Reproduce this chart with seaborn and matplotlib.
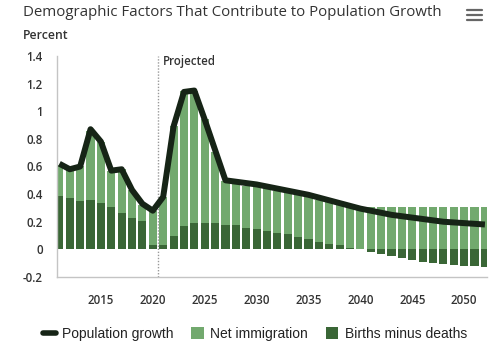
import numpy as np
import pandas as pd
import seaborn as sns
import matplotlib.pyplot as plt
from matplotlib.lines import Line2D
from matplotlib.patches import Patch

years = list(range(2011, 2053))

births_minus_deaths = [0.39, 0.373, 0.35, 0.36, 0.335, 0.31, 0.26, 0.23, 0.205, 0.03,
                       0.035, 0.10, 0.17, 0.19, 0.19, 0.19, 0.175, 0.175, 0.155, 0.146,
                       0.136, 0.12, 0.108, 0.088, 0.077, 0.055, 0.04, 0.028, 0.01, 0.0,
                       -0.016, -0.03, -0.045, -0.062, -0.075, -0.088, -0.096, -0.106,
                       -0.113, -0.118, -0.122, -0.128]

net_immigration = [0.22, 0.20, 0.25, 0.50, 0.445, 0.26, 0.325, 0.20, 0.115, 0.245,
                   0.345, 0.79, 0.98, 0.96, 0.755, 0.515, 0.32, 0.305, 0.305, 0.31,
                   0.307, 0.305, 0.302, 0.307, 0.30, 0.305, 0.302, 0.30, 0.30, 0.30,
                   0.306, 0.306, 0.306, 0.306, 0.306, 0.306, 0.306, 0.306, 0.306,
                   0.306, 0.306, 0.306]

population_growth = [0.62, 0.58, 0.60, 0.87, 0.78, 0.57, 0.58, 0.43, 0.33, 0.28,
                     0.38, 0.89, 1.14, 1.15, 0.94, 0.72, 0.50, 0.49, 0.48, 0.47,
                     0.455, 0.44, 0.425, 0.41, 0.395, 0.375, 0.355, 0.335, 0.315, 0.295,
                     0.28, 0.265, 0.25, 0.24, 0.23, 0.22, 0.21, 0.20, 0.195, 0.19,
                     0.185, 0.18]

yticks = [-0.2, 0, 0.2, 0.4, 0.6, 0.8, 1, 1.2, 1.4]
ytick_labels = ["-0.2", "0", "0.2", "0.4", "0.6", "0.8", "1", "1.2", "1.4"]
xticks = [2015, 2020, 2025, 2030, 2035, 2040, 2045, 2050]

LIGHT = "#72a96e"
DARK = "#3a6636"
LINE = "#162416"
TEXT = "#333333"

df = pd.DataFrame({"year": years, "births": births_minus_deaths,
                   "net": net_immigration, "pop": population_growth})
# light bar sits on top of positive natural increase, starts at 0 otherwise
df["stack_top"] = df["net"] + df["births"].clip(lower=0)

sns.set_theme(style="white")
plt.rcParams["font.family"] = ["Open Sans", "DejaVu Sans"]

fig = plt.figure(figsize=(5, 3.52), dpi=100)
ax = fig.add_axes([0.1134, 0.2131, 0.8606, 0.6278])

sns.barplot(data=df, x="year", y="stack_top", native_scale=True, color=LIGHT,
            saturation=1, width=0.78, linewidth=0, errorbar=None, ax=ax)
sns.barplot(data=df, x="year", y="births", native_scale=True, color=DARK,
            saturation=1, width=0.78, linewidth=0, errorbar=None, ax=ax)
sns.lineplot(data=df, x="year", y="pop", color=LINE, linewidth=4.3,
             solid_joinstyle="round", solid_capstyle="butt", ax=ax, zorder=5)

ax.set_xlim(2010.74, 2052.2)
ax.set_ylim(-0.2, 1.4)
ax.set_xticks(xticks)
ax.set_xticklabels([str(x) for x in xticks])
ax.set_yticks(yticks)
ax.set_yticklabels(ytick_labels)
ax.set_xlabel("")
ax.set_ylabel("")

for side in ["top", "right"]:
    ax.spines[side].set_visible(False)
for side in ["left", "bottom"]:
    ax.spines[side].set_color("#c4c4c4")
    ax.spines[side].set_linewidth(1.0)

ax.tick_params(axis="both", direction="in", length=5, width=1, color="#c4c4c4",
               labelsize=8.3, labelcolor=TEXT)
ax.tick_params(axis="y", pad=10)
ax.tick_params(axis="x", pad=12)
for lab in ax.get_xticklabels() + ax.get_yticklabels():
    lab.set_fontweight("semibold")

# projection divider
ax.axvline(2020.5, ymin=0, ymax=1, color="#999999", linestyle=(0, (1, 1.2)),
           linewidth=1, zorder=1)
ax.text(2021.0, 1.36, "Projected", fontsize=8.3, fontweight="semibold",
        color=TEXT, va="center", ha="left")

fig.text(0.046, 0.965, "Demographic Factors That Contribute to Population Growth",
         fontsize=10.8, fontweight="medium", color=TEXT, va="center", ha="left")
fig.text(0.046, 0.9, "Percent", fontsize=8.8, fontweight="semibold",
         color=TEXT, va="center", ha="left")

# menu icon
for yy in [0.972, 0.957, 0.943]:
    fig.add_artist(Line2D([0.934, 0.964], [yy, yy], color="#666666",
                          linewidth=1.6, transform=fig.transFigure))

handles = [Line2D([0], [0], color=LINE, linewidth=4, solid_capstyle="round"),
           Patch(facecolor=LIGHT, edgecolor="none"),
           Patch(facecolor=DARK, edgecolor="none")]
labels = ["Population growth", "Net immigration", "Births minus deaths"]
leg = fig.legend(handles, labels, loc="center", bbox_to_anchor=(0.51, 0.051),
                 ncol=3, frameon=False, handlelength=0.9, handleheight=0.9,
                 handletextpad=0.45, columnspacing=1.3,
                 prop={"family": ["Liberation Sans"], "size": 10})
for t in leg.get_texts():
    t.set_color("#222222")

fig.savefig("out.png", dpi=100)
